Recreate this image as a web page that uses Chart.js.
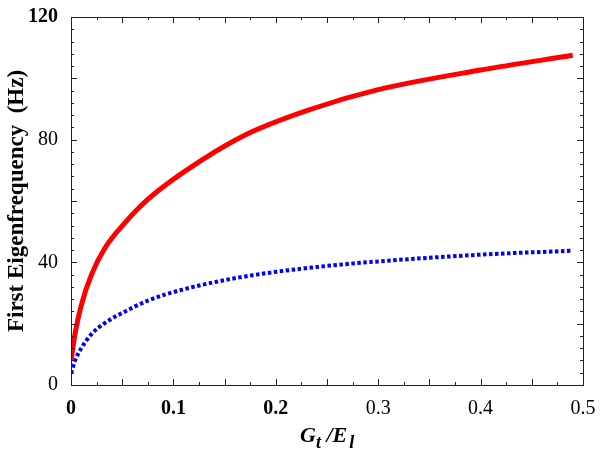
<!DOCTYPE html>
<html>
<head>
<meta charset="utf-8">
<script src="https://cdn.jsdelivr.net/npm/chart.js"></script>
<style>
  html, body { margin: 0; padding: 0; background: #fff; }
  #wrap { width: 602px; height: 461px; }
</style>
</head>
<body>
<div id="wrap"><canvas id="c"></canvas></div>
<script>
// Valeurs
const ratio = [0, 0.004, 0.01, 0.02, 0.033, 0.053, 0.075, 0.11, 0.17, 0.235, 0.3, 0.4, 0.49];
const freqRed = [8, 16.8, 26, 36, 44.6, 53, 60.5, 69.4, 81.5, 90, 96.3, 102.7, 107.5];
const freqBlue = [3.8, 8, 12, 16.6, 20.2, 24, 27.5, 31.2, 35.4, 38.3, 40.3, 42.5, 43.8];
const xTicks = [0, 0.1, 0.2, 0.3, 0.4, 0.5];
const yTicks = [0, 40, 80, 120];
const yTitle = "First Eigenfrequency  (Hz)";

const serif = "'Liberation Serif', 'Times New Roman', serif";

// cadre + graduations vers l'intérieur
const frameTicks = {
    id: "frameTicks",
    afterDraw(chart) {
        const { ctx, chartArea: a, scales: { x, y } } = chart;
        ctx.save();
        ctx.strokeStyle = "#222";
        ctx.lineWidth = 1;
        ctx.strokeRect(a.left + 0.5, a.top + 0.5, a.right - a.left, a.bottom - a.top);
        ctx.beginPath();
        for (let i = 0; i <= 20; i++) {
            const v = i * 0.025;
            const px = Math.round(x.getPixelForValue(v)) + 0.5;
            const len = i % 2 === 0 ? 6 : 3;
            ctx.moveTo(px, a.bottom); ctx.lineTo(px, a.bottom - len);
            ctx.moveTo(px, a.top); ctx.lineTo(px, a.top + len);
        }
        for (let v = 0; v <= 120; v += 4) {
            const py = Math.round(y.getPixelForValue(v)) + 0.5;
            const len = v % 20 === 0 ? 6 : 3;
            ctx.moveTo(a.left, py); ctx.lineTo(a.left + len, py);
            ctx.moveTo(a.right, py); ctx.lineTo(a.right - len, py);
        }
        ctx.stroke();

        // titre de l'axe x avec indices
        ctx.fillStyle = "#000";
        ctx.textBaseline = "alphabetic";
        const big = "italic bold 22px " + serif;
        const small = "italic bold 18px " + serif;
        const parts = [
            { t: "G", f: big, dy: 0 },
            { t: "t", f: small, dy: 6 },
            { t: " /", f: big, dy: 0 },
            { t: "E", f: big, dy: 0 },
            { t: "l", f: small, dy: 6 }
        ];
        let cx = 300;
        const base = 442;
        parts.forEach(p => {
            ctx.font = p.f;
            ctx.fillText(p.t, cx, base + p.dy);
            cx += ctx.measureText(p.t).width + (p.t === "E" ? 2 : 0);
        });
        ctx.restore();
    }
};

new Chart(document.getElementById("c"), {
    type: "scatter",
    data: {
        datasets: [{
            label: "red",
            data: ratio.map((r, i) => ({ x: r, y: freqRed[i] })),
            showLine: true,
            borderColor: "#ff0000",
            borderWidth: 5,
            pointRadius: 0,
            cubicInterpolationMode: "monotone"
        }, {
            label: "blue",
            data: ratio.map((r, i) => ({ x: r, y: freqBlue[i] })),
            showLine: true,
            borderColor: "#0000ff",
            borderWidth: 4,
            borderDash: [3.5, 2.5],
            borderCapStyle: "butt",
            pointRadius: 0,
            cubicInterpolationMode: "monotone"
        }]
    },
    options: {
        responsive: true,
        maintainAspectRatio: false,
        animation: false,
        layout: { padding: { top: 13, right: 19, left: 0, bottom: 0 } },
        plugins: {
            legend: { display: false },
            tooltip: { enabled: false }
        },
        scales: {
            x: {
                type: "linear",
                min: 0, max: 0.5,
                afterBuildTicks: s => { s.ticks = xTicks.map(v => ({ value: v })); },
                afterFit: s => { s.height = 76; },
                grid: { display: false },
                border: { display: false },
                ticks: {
                    color: "#000",
                    padding: 4,
                    font: c => ({ family: serif, size: 20, weight: c.tick && c.tick.value <= 0.2 ? "bold" : "normal" }),
                    callback: v => String(v)
                }
            },
            y: {
                min: 0, max: 120,
                afterBuildTicks: s => { s.ticks = yTicks.map(v => ({ value: v })); },
                afterFit: s => { s.width = 71; },
                grid: { display: false },
                border: { display: false },
                title: {
                    display: true,
                    text: yTitle,
                    color: "#000",
                    font: { family: serif, size: 23, weight: "bold" },
                    padding: { top: 3, bottom: 0 }
                },
                ticks: {
                    color: "#000",
                    padding: 5,
                    font: c => ({ family: serif, size: 20, weight: c.tick && c.tick.value === 120 ? "bold" : "normal" })
                }
            }
        }
    },
    plugins: [frameTicks]
});
</script>
</body>
</html>
